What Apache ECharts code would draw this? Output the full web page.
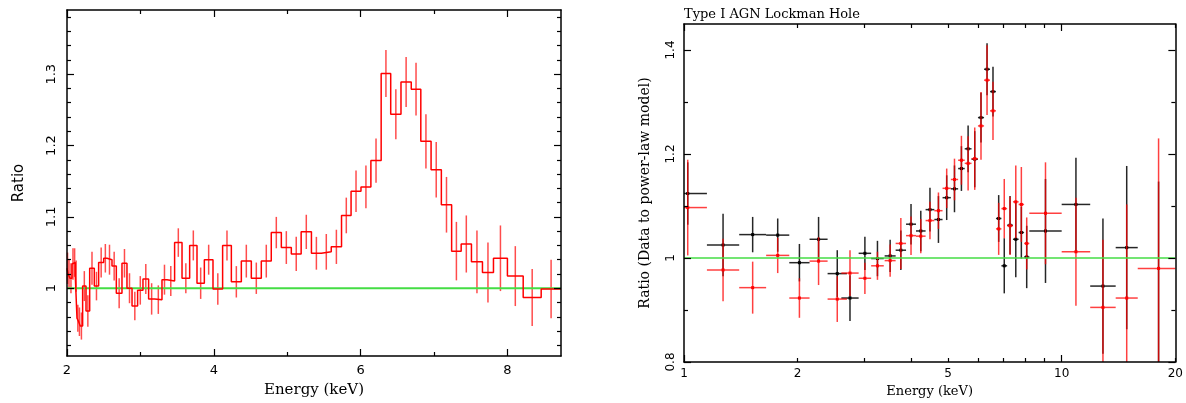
<!DOCTYPE html>
<html><head><meta charset="utf-8">
<script src="https://cdn.jsdelivr.net/npm/echarts@6/dist/echarts.min.js"></script>
<style>html,body{margin:0;padding:0;background:#fff}#c{width:1186px;height:403px}</style>
</head><body><div id="c"></div>
<script>
// ---------- Left panel data (step histogram with errors) ----------
const leftEdges = [2.000,2.015,2.040,2.068,2.095,2.113,2.136,2.159,2.180,2.213,2.259,2.309,2.372,2.431,2.500,2.545,2.613,2.672,2.749,2.817,2.886,2.962,3.035,3.112,3.194,3.294,3.362,3.466,3.567,3.671,3.771,3.871,3.989,4.120,4.239,4.375,4.511,4.647,4.783,4.920,5.056,5.190,5.330,5.465,5.600,5.740,5.870,6.005,6.140,6.280,6.410,6.550,6.690,6.820,6.960,7.100,7.240,7.370,7.510,7.660,7.810,8.000,8.215,8.460,8.730];
const leftRatio = [1.028,1.020,1.014,1.034,1.036,1.017,0.958,0.953,0.947,1.003,0.968,1.028,1.003,1.036,1.042,1.040,1.031,0.993,1.035,1.000,0.975,0.997,1.013,0.985,0.984,1.012,1.010,1.064,1.014,1.060,1.007,1.040,0.999,1.060,1.009,1.038,1.014,1.038,1.078,1.057,1.048,1.079,1.049,1.051,1.058,1.102,1.136,1.142,1.179,1.301,1.244,1.289,1.279,1.206,1.166,1.117,1.052,1.062,1.037,1.022,1.042,1.017,0.987,0.999];
const leftErr = [0.022,0.020,0.021,0.022,0.020,0.022,0.019,0.020,0.019,0.021,0.022,0.023,0.020,0.021,0.020,0.021,0.020,0.021,0.020,0.021,0.020,0.020,0.021,0.022,0.020,0.021,0.021,0.020,0.021,0.021,0.022,0.021,0.022,0.021,0.022,0.023,0.022,0.023,0.022,0.023,0.024,0.024,0.023,0.025,0.024,0.025,0.029,0.030,0.031,0.033,0.035,0.035,0.037,0.038,0.039,0.039,0.041,0.040,0.044,0.042,0.046,0.042,0.040,0.041,0.042];
const leftXMajor = [2,4,6,8];
const leftXMinor = [3,5,7];
const leftYMajor = [1,1.1,1.2,1.3];
const leftYMinor = [0.92,0.94,0.96,0.98,1.02,1.04,1.06,1.08,1.12,1.14,1.16,1.18,1.22,1.24,1.26,1.28,1.32,1.34,1.36,1.38];

// ---------- Right panel data (two data sets, crosses) ----------
const rightLo = [0.91,1.15,1.40,1.65,1.90,2.15,2.40,2.61,2.90,3.13,3.398,3.634,3.872,4.114,4.362,4.601,4.837,5.088,5.319,5.537,5.771,6.002,6.230,6.461,6.699,6.925,7.171,7.430,7.691,7.952,8.21,10.0,11.9,13.9,15.9];
const rightHi = [1.15,1.40,1.65,1.90,2.15,2.40,2.70,2.90,3.13,3.38,3.634,3.872,4.114,4.362,4.601,4.837,5.088,5.319,5.537,5.771,6.002,6.230,6.461,6.699,6.925,7.171,7.430,7.691,7.952,8.21,10.0,11.9,13.9,15.9,20.5];
const blackRatio = [1.124,1.025,1.045,1.044,0.991,1.036,0.970,0.923,1.009,0.999,1.004,1.015,1.065,1.052,1.093,1.074,1.116,1.133,1.172,1.210,1.190,1.270,1.363,1.320,1.076,0.985,1.063,1.036,1.049,1.002,1.052,1.103,0.946,1.020,0.790];
const blackErr = [0.060,0.060,0.034,0.032,0.036,0.043,0.045,0.044,0.032,0.034,0.031,0.038,0.039,0.039,0.042,0.045,0.043,0.045,0.043,0.045,0.054,0.048,0.050,0.048,0.045,0.053,0.056,0.073,0.050,0.060,0.100,0.090,0.130,0.157,0.357];
const redRatio = [1.097,0.977,0.943,1.005,0.923,0.994,0.921,0.971,0.961,0.985,0.995,1.028,1.043,1.042,1.072,1.091,1.134,1.151,1.188,1.182,1.191,1.254,1.342,1.283,1.056,1.095,1.062,1.108,1.103,1.028,1.086,1.012,0.905,0.923,0.980];
const redErr = [0.092,0.060,0.050,0.034,0.038,0.046,0.044,0.044,0.030,0.027,0.031,0.049,0.037,0.033,0.036,0.035,0.038,0.040,0.047,0.052,0.060,0.065,0.067,0.056,0.050,0.057,0.056,0.070,0.072,0.050,0.098,0.104,0.130,0.180,0.250];
const rightXLabels = [1,2,5,10,20];
const rightXMajor = [1,10];
const rightXMinor = [2,3,4,5,6,7,8,9,20];
const rightYMajor = [0.8,1.0,1.2,1.4];
const rightYMinor = [0.9,1.1,1.3];
const rightXRange = [1,20];
const modelRatio = 1;
const titleText = 'Type I AGN Lockman Hole';

// ---------- build ----------
const lg = Math.log10;
const SANS = 'DejaVu Sans', SERIF = 'DejaVu Serif';
function axis(o) {
  const a = {
    gridIndex: o.grid, type: 'value', position: o.pos, min: o.min, max: o.max,
    splitLine: {show: false},
    axisLine: {show: !!o.line, onZero: false, lineStyle: {color: '#000', width: 1.5}},
    axisTick: {show: true, inside: true, length: o.len, customValues: o.ticks, lineStyle: {color: '#000', width: 1.2}},
    axisLabel: o.labels ? Object.assign({show: true, customValues: o.labels, color: '#000'}, o.labelStyle) : {show: false},
    z: 5
  };
  if (o.name) Object.assign(a, o.name);
  return a;
}
const LX = [2, 8.73], LY = [0.905, 1.39];
const RX = [lg(rightXRange[0]), lg(rightXRange[1])], RY = [0.8, 1.45];
const fmtL = v => (Math.abs(v - 1) < 1e-9 ? '1' : v.toFixed(1));
const fmtRX = v => String(Math.round(Math.pow(10, v)));

const xAxes = [
  axis({grid:0,pos:'bottom',min:LX[0],max:LX[1],ticks:leftXMajor,len:7,line:true,labels:leftXMajor,
    labelStyle:{margin:8,fontSize:13,fontFamily:SANS},
    name:{name:'Energy (keV)',nameLocation:'middle',nameGap:27,nameTextStyle:{fontFamily:SERIF,fontSize:15,color:'#000'}}}),
  axis({grid:0,pos:'bottom',min:LX[0],max:LX[1],ticks:leftXMinor,len:4}),
  axis({grid:0,pos:'top',min:LX[0],max:LX[1],ticks:leftXMajor,len:7,line:true}),
  axis({grid:0,pos:'top',min:LX[0],max:LX[1],ticks:leftXMinor,len:4}),
  axis({grid:1,pos:'bottom',min:RX[0],max:RX[1],ticks:rightXMajor.map(lg),len:7,line:true,labels:rightXLabels.map(lg),
    labelStyle:{margin:6,fontSize:12,fontFamily:SANS,formatter:fmtRX},
    name:{name:'Energy (keV)',nameLocation:'middle',nameGap:23,nameTextStyle:{fontFamily:SERIF,fontSize:13,color:'#000'}}}),
  axis({grid:1,pos:'bottom',min:RX[0],max:RX[1],ticks:rightXMinor.map(lg),len:4}),
  axis({grid:1,pos:'top',min:RX[0],max:RX[1],ticks:rightXMajor.map(lg),len:7,line:true}),
  axis({grid:1,pos:'top',min:RX[0],max:RX[1],ticks:rightXMinor.map(lg),len:4})
];
const yAxes = [
  axis({grid:0,pos:'left',min:LY[0],max:LY[1],ticks:leftYMajor,len:7,line:true,labels:leftYMajor,
    labelStyle:{margin:9,fontSize:13,fontFamily:SANS,rotate:90,formatter:fmtL},
    name:{name:'Ratio',nameLocation:'middle',nameGap:40,nameRotate:90,nameTextStyle:{fontFamily:SANS,fontSize:15,color:'#000'}}}),
  axis({grid:0,pos:'left',min:LY[0],max:LY[1],ticks:leftYMinor,len:4}),
  axis({grid:0,pos:'right',min:LY[0],max:LY[1],ticks:leftYMajor,len:7,line:true}),
  axis({grid:0,pos:'right',min:LY[0],max:LY[1],ticks:leftYMinor,len:4}),
  axis({grid:1,pos:'left',min:RY[0],max:RY[1],ticks:rightYMajor,len:7,line:true,labels:rightYMajor,
    labelStyle:{margin:7,fontSize:12,fontFamily:SANS,rotate:90,formatter:fmtL},
    name:{name:'Ratio (Data to power-law model)',nameLocation:'middle',nameGap:32,nameRotate:90,nameTextStyle:{fontFamily:SERIF,fontSize:14,color:'#000'}}}),
  axis({grid:1,pos:'left',min:RY[0],max:RY[1],ticks:rightYMinor,len:4}),
  axis({grid:1,pos:'right',min:RY[0],max:RY[1],ticks:rightYMajor,len:7,line:true}),
  axis({grid:1,pos:'right',min:RY[0],max:RY[1],ticks:rightYMinor,len:4})
];

const stepData = leftRatio.map((v,i)=>[leftEdges[i], v]);
stepData.push([leftEdges[leftEdges.length-1], leftRatio[leftRatio.length-1]]);
const errData = leftRatio.map((v,i)=>[(leftEdges[i]+leftEdges[i+1])/2, v, leftErr[i]]);

function errRender(params, api) {
  const x = api.value(0), v = api.value(1), e = api.value(2);
  const cs = params.coordSys;
  const p1 = api.coord([x, v + e]), p2 = api.coord([x, v - e]);
  const y1 = Math.max(cs.y, p1[1]), y2 = Math.min(cs.y + cs.height, p2[1]);
  return {type:'line', shape:{x1:p1[0], y1:y1, x2:p1[0], y2:y2}, style:{stroke:'#ff0000', opacity:0.7, lineWidth:1.5}};
}
function crossRender(color, alpha) {
  return function(params, api) {
    const lo = api.value(0), hi = api.value(1), v = api.value(2), e = api.value(3);
    const cs = params.coordSys;
    const L = cs.x, R = cs.x + cs.width, T = cs.y, B = cs.y + cs.height;
    const cx = (lo + hi) / 2;
    const pL = api.coord([lo, v]), pR = api.coord([hi, v]), pC = api.coord([cx, v]);
    const pT = api.coord([cx, v + e]), pB = api.coord([cx, v - e]);
    const ch = [];
    const yT = Math.max(T, pT[1]), yB = Math.min(B, pB[1]);
    if (yB > yT) ch.push({type:'line', shape:{x1:pC[0], y1:yT, x2:pC[0], y2:yB}, style:{stroke:color, opacity:alpha, lineWidth:1.5}});
    if (pC[1] >= T && pC[1] <= B) {
      ch.push({type:'line', shape:{x1:Math.max(L,pL[0]), y1:pC[1], x2:Math.min(R,pR[0]), y2:pC[1]}, style:{stroke:color, opacity:alpha, lineWidth:1.5}});
      ch.push({type:'rect', shape:{x:pC[0]-1.5, y:pC[1]-1.5, width:3, height:3}, style:{fill:color}});
    }
    return {type:'group', children:ch};
  };
}
const blackData = rightLo.map((lo,i)=>[lg(lo), lg(rightHi[i]), blackRatio[i], blackErr[i]]);
const redData = rightLo.map((lo,i)=>[lg(lo), lg(rightHi[i]), redRatio[i], redErr[i]]);

const option = {
  animation: false,
  backgroundColor: '#fff',
  title: {text: titleText, left: 684, top: 8, padding: 0,
    textStyle: {fontFamily: SERIF, fontSize: 13, fontWeight: 'normal', color: '#000'}},
  grid: [
    {left: 67, top: 10, width: 494, height: 347},
    {left: 684, top: 24, width: 494, height: 340}
  ],
  xAxis: xAxes,
  yAxis: yAxes,
  series: [
    {type:'custom', xAxisIndex:0, yAxisIndex:0, data: errData, renderItem: errRender, z: 2, silent: true,
      dimensions:['x','y','e'], encode:{x:0, y:1}},
    {type:'line', xAxisIndex:0, yAxisIndex:0, data:[[leftEdges[0], modelRatio],[leftEdges[leftEdges.length-1], modelRatio]],
      symbol:'none', lineStyle:{color:'#44dd44', width:2}, z: 3, silent: true},
    {type:'line', xAxisIndex:0, yAxisIndex:0, data: stepData, step:'end', symbol:'none',
      lineStyle:{color:'#ff0000', width:1.5}, z: 4, silent: true},
    {type:'custom', xAxisIndex:4, yAxisIndex:4, data: blackData, renderItem: crossRender('#000000', 0.85), z: 2, silent: true,
      dimensions:['lo','hi','y','e'], encode:{x:[0,1], y:2}},
    {type:'custom', xAxisIndex:4, yAxisIndex:4, data: redData, renderItem: crossRender('#ff0000', 0.75), z: 3, silent: true,
      dimensions:['lo','hi','y','e'], encode:{x:[0,1], y:2}},
    {type:'line', xAxisIndex:4, yAxisIndex:4, data:[[RX[0], modelRatio],[RX[1], modelRatio]],
      symbol:'none', lineStyle:{color:'#44dd44', width:1.5}, z: 4, silent: true}
  ]
};
const chart = echarts.init(document.getElementById('c'), null, {renderer: 'canvas'});
chart.setOption(option);
</script>
</body></html>
